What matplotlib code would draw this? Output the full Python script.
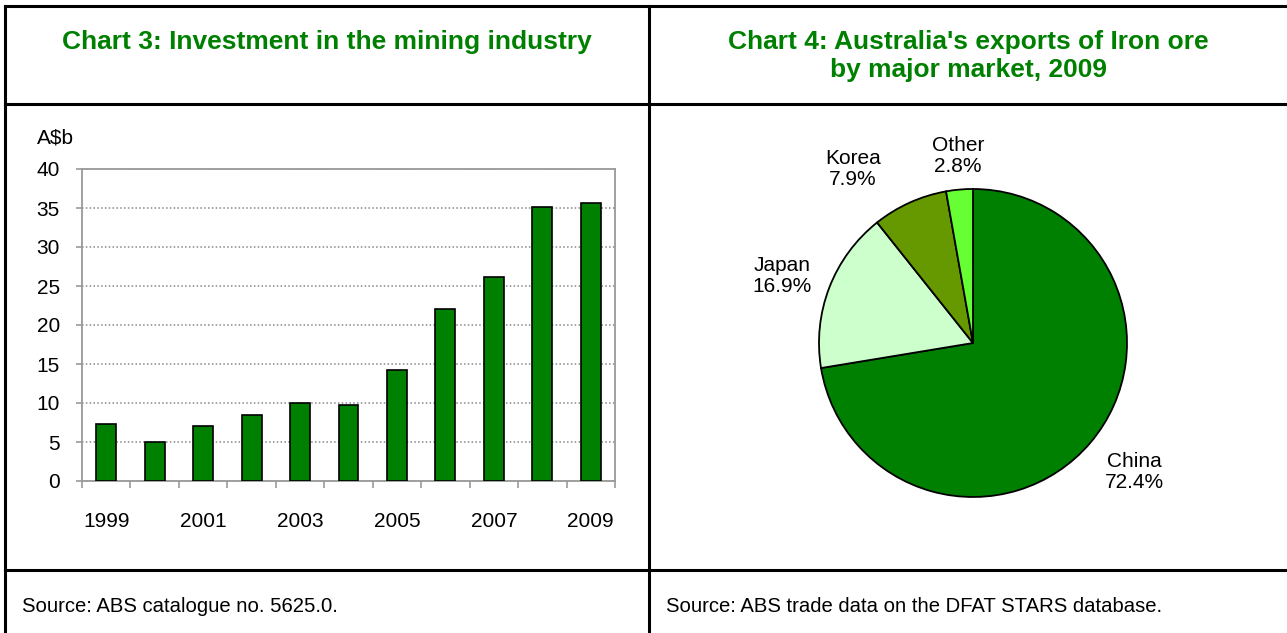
import matplotlib
matplotlib.use('Agg')
import matplotlib.pyplot as plt
from matplotlib.lines import Line2D

plt.rcParams['font.family'] = ['Liberation Sans', 'DejaVu Sans']

# Chart 3 data
years = [1999, 2000, 2001, 2002, 2003, 2004, 2005, 2006, 2007, 2008, 2009]
investment = [7.3, 5.0, 7.1, 8.5, 10.0, 9.8, 14.2, 22.1, 26.1, 35.1, 35.6]
year_labels = ['1999', '', '2001', '', '2003', '', '2005', '', '2007', '', '2009']
y_ticks = [0, 5, 10, 15, 20, 25, 30, 35, 40]

# Chart 4 data
markets = ['China', 'Japan', 'Korea', 'Other']
shares = [72.4, 16.9, 7.9, 2.8]
pie_colors = ['#008000', '#CCFFCC', '#669900', '#66FF33']

W, H = 1287, 633
GREEN = '#008000'

fig = plt.figure(figsize=(W / 100, H / 100), dpi=100)


def fx(px):
    return px / W


def fy(py):
    return 1 - py / H


# table frame
lw = 2.2
for xs, ys in [((5, W), (6, 6)), ((5, W), (104, 104)), ((5, W), (570, 570)),
               ((5, 5), (6, H)), ((649, 649), (6, H))]:
    fig.add_artist(Line2D([fx(x) for x in xs], [fy(y) for y in ys],
                          color='black', lw=lw, solid_capstyle='projecting'))

narrow = ['Liberation Sans Narrow', 'Liberation Sans', 'DejaVu Sans']
title_kw = dict(color=GREEN, fontsize=19, fontweight='bold', family=narrow,
                ha='center', va='center')
fig.text(fx(327), fy(42), 'Chart 3: Investment in the mining industry', **title_kw)
fig.text(fx(968), fy(56), "Chart 4: Australia's exports of Iron ore\nby major market, 2009",
         linespacing=1.2, **title_kw)

src_kw = dict(fontsize=14.6, family=narrow, ha='left', va='center', color='black')
fig.text(fx(22), fy(606), 'Source: ABS catalogue no. 5625.0.', **src_kw)
fig.text(fx(666), fy(606), 'Source: ABS trade data on the DFAT STARS database.', **src_kw)

# bar chart
ax = fig.add_axes([fx(82), fy(481), fx(615) - fx(82), fy(169) - fy(481)])
x = list(range(len(years)))
ax.bar(x, investment, width=0.41, color=GREEN, edgecolor='black', linewidth=1.2, zorder=3)
ax.set_xlim(-0.5, len(years) - 0.5)
ax.set_ylim(0, 40)
ax.set_yticks(y_ticks)
ax.set_yticklabels([str(v) for v in y_ticks])
ax.set_xticks([i + 0.5 for i in range(-1, len(years))], minor=False)
ax.set_xticklabels([''] * (len(years) + 1))
ax.set_xticks(x, minor=True)
ax.set_xticklabels(year_labels, minor=True)
ax.tick_params(axis='x', which='major', length=5, color='#999999', width=1.2, direction='out')
ax.tick_params(axis='x', which='minor', length=0, pad=22, labelsize=15)
ax.tick_params(axis='y', length=4, color='#999999', width=1.2, labelsize=15, pad=12)
ax.grid(axis='y', color='#888888', linestyle=(0, (1, 1.5)), linewidth=1.1, zorder=0)
for s in ax.spines.values():
    s.set_color('#999999')
    s.set_linewidth(1.3)
ax.text(-0.084, 1.10, 'A$b', transform=ax.transAxes, fontsize=15, ha='left', va='center')

# pie chart
r = 154
cx, cy = 973, 343
pax = fig.add_axes([fx(cx - r), fy(cy + r), 2 * r / W, 2 * r / H])
pax.pie(shares, colors=pie_colors, startangle=90, counterclock=False,
        wedgeprops=dict(edgecolor='black', linewidth=1.3))
pax.set_aspect('equal')
pax.set_xlim(-1, 1)
pax.set_ylim(-1, 1)

label_pos = {'China': (1134, 472), 'Japan': (782, 276), 'Korea': (853, 169), 'Other': (958, 156)}
for name, val in zip(markets, shares):
    px, py = label_pos[name]
    fig.text(fx(px), fy(py), f'{name}\n{val}%', fontsize=15, ha='center', va='center',
             linespacing=1.15)

fig.savefig('out.png', dpi=100)
